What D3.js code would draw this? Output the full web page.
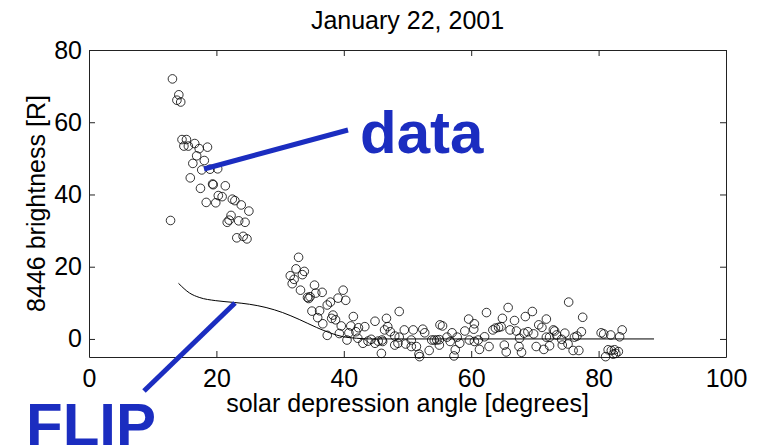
<!DOCTYPE html>
<html>
<head>
<meta charset="utf-8">
<script src="https://cdn.jsdelivr.net/npm/d3@7"></script>
<style>
  html, body { margin: 0; padding: 0; background: #fff; }
  svg { display: block; }
  text { font-family: "Liberation Sans", Arial, Helvetica, sans-serif; }
</style>
</head>
<body>
<svg id="chart" width="763" height="447"></svg>
<script>
// Observed 8446 brightness versus solar depression angle
const angle = [
  13.1,14.1,13.8,14.4,14.6,15.3,14.9,15.6,16.6,17.3,18.6,16.9,18.1,16.3,17.7,19.0,20.2,15.9,17.5,19.4,
  19.5,21.4,20.3,20.9,18.4,19.9,22.5,22.9,23.9,25.1,12.8,22.3,22.0,21.7,23.5,24.5,23.2,24.2,24.8,
  32.9,32.5,33.8,33.5,31.6,32.2,31.9,33.2,35.4,36.6,35.6,34.3,34.7,34.5,39.9,39.1,40.3,37.9,37.4,35.0,
  36.2,35.9,38.3,38.1,36.7,38.7,39.6,37.4,39.3,41.5,41.1,42.3,40.8,41.9,43.3,44.9,46.7,46.9,40.5,42.2,
  43.0,43.8,44.3,45.4,44.9,46.1,45.9,47.3,48.0,48.5,48.7,
  46.4,46.0,48.0,48.7,49.5,49.7,50.6,50.9,50.6,51.4,51.9,51.8,52.4,52.7,53.4,53.8,54.2,54.6,55.0,55.1,
  55.5,55.0,56.2,57.0,56.7,57.5,57.3,57.8,58.2,59.0,59.6,60.4,60.5,59.7,60.5,61.1,61.3,62.4,62.1,62.8,
  63.4,63.8,64.3,64.7,64.9,65.8,65.2,65.5,66.1,66.8,67.1,67.6,67.5,67.9,68.5,69.6,68.3,68.9,69.8,70.2,
  70.6,71.1,71.8,71.4,72.3,72.9,71.8,73.4,
  75.3,77.5,73.1,74.7,72.3,74.2,74.3,75.2,76.0,76.9,76.2,76.6,77.3,80.4,80.8,81.9,83.7,83.3,81.5,82.0,
  82.5,83.1,82.7,81.1,82.3
];
const brightness = [
  72.0,67.6,66.1,65.6,55.2,55.2,53.4,53.4,54.1,52.7,53.1,50.7,49.4,48.6,46.8,47.0,47.1,44.6,41.7,42.9,
  42.7,42.4,39.7,39.4,37.8,37.7,38.7,38.3,37.1,35.4,32.8,34.2,32.9,32.3,32.7,32.3,28.0,28.4,27.7,
  22.6,19.4,18.7,17.8,17.5,16.5,15.3,13.5,14.9,12.9,12.7,11.5,11.7,11.2,13.5,11.3,10.7,10.2,9.4,7.7,
  7.8,5.9,6.6,5.7,4.2,5.3,3.6,1.0,1.5,6.2,3.6,3.1,1.7,2.0,3.4,4.9,5.7,3.4,-0.3,0.2,
  -1.2,-0.6,-0.1,-0.6,-1.2,-0.7,-4.0,2.0,0.8,-1.2,7.6,
  2.5,-0.3,-1.7,0.5,2.5,-1.4,-0.3,2.5,-2.1,-2.1,-4.9,-4.2,2.7,1.7,-3.2,-0.3,-0.3,-0.3,-0.2,3.9,
  3.6,-1.7,0.5,1.7,-0.7,-3.0,-4.7,0.5,-1.2,2.2,5.5,2.7,4.2,-0.3,-0.7,-0.3,-2.9,7.3,0.6,-2.1,
  2.5,3.0,3.2,3.4,5.7,8.7,-1.7,-3.6,2.5,5.1,2.2,0.2,-2.1,-3.7,6.2,7.6,1.6,2.0,1.4,-2.1,
  3.9,3.2,5.5,-2.9,-1.9,2.5,0.5,1.1,
  10.2,6.0,2.2,1.6,0.5,-0.1,-1.7,-1.4,-3.2,-3.2,0.5,0.8,2.0,1.7,1.4,1.1,2.5,0.6,-3.0,-3.2,
  -3.0,-3.5,-4.0,-4.9,-4.2
];

// FLIP model curve
const modelAngle = [14.05,15.8,17.3,19.9,22.8,25.2,27.8,30.4,33.0,35.7,37.8,39.9,42.0,44.0,88.7];
const modelBrightness = [15.4,12.7,11.5,10.6,10.1,9.6,8.7,7.3,5.4,3.2,1.7,0.6,0.2,0.0,0.0];

const xTicks = [0, 20, 40, 60, 80, 100];
const yTicks = [0, 20, 40, 60, 80];
const xDomain = [0, 100];
const yDomain = [-5, 80];

const titleText = "January 22, 2001";
const xLabelText = "solar depression angle [degrees]";
const yLabelText = "8446 brightness [R]";

const W = 763, H = 447;
const margin = { top: 50, right: 37, bottom: 90, left: 89 };
const iw = W - margin.left - margin.right;
const ih = H - margin.top - margin.bottom;

const svg = d3.select("#chart");
const g = svg.append("g").attr("transform", `translate(${margin.left},${margin.top})`);

const x = d3.scaleLinear().domain(xDomain).range([0, iw]);
const y = d3.scaleLinear().domain(yDomain).range([ih, 0]);

const fontSize = 25;
const tickLen = 6;
const axisColor = "#222";

function styleAxis(sel) {
  sel.select(".domain").attr("stroke", axisColor).attr("stroke-width", 1);
  sel.selectAll(".tick line").attr("stroke", axisColor).attr("stroke-width", 1);
  sel.selectAll(".tick text").attr("fill", "#000").style("font-size", fontSize + "px")
    .style("font-family", '"Liberation Sans", Arial, Helvetica, sans-serif');
}

// bottom and left axes carry labels; ticks point inward
g.append("g").attr("transform", `translate(0,${ih})`)
  .call(d3.axisBottom(x).tickValues(xTicks).tickSize(-tickLen).tickSizeOuter(0).tickPadding(12))
  .call(styleAxis);
g.append("g")
  .call(d3.axisLeft(y).tickValues(yTicks).tickSize(-tickLen).tickSizeOuter(0).tickPadding(7))
  .call(styleAxis);
// mirrored top and right axes, ticks only
g.append("g")
  .call(d3.axisTop(x).tickValues(xTicks).tickSize(-tickLen).tickSizeOuter(0).tickFormat(""))
  .call(styleAxis);
g.append("g").attr("transform", `translate(${iw},0)`)
  .call(d3.axisRight(y).tickValues(yTicks).tickSize(-tickLen).tickSizeOuter(0).tickFormat(""))
  .call(styleAxis);

// model curve
const line = d3.line().x(d => x(d[0])).y(d => y(d[1])).curve(d3.curveMonotoneX);
g.append("path")
  .datum(d3.zip(modelAngle, modelBrightness))
  .attr("d", line)
  .attr("fill", "none")
  .attr("stroke", "#000")
  .attr("stroke-width", 1);

// measurements as open circles
g.append("g").selectAll("circle")
  .data(d3.zip(angle, brightness))
  .join("circle")
  .attr("cx", d => x(d[0]))
  .attr("cy", d => y(d[1]))
  .attr("r", 4.3)
  .attr("fill", "none")
  .attr("stroke", "#000")
  .attr("stroke-width", 0.8);

// title and axis labels
svg.append("text")
  .attr("x", margin.left + iw / 2).attr("y", 29)
  .attr("text-anchor", "middle")
  .style("font-size", fontSize + "px")
  .text(titleText);
svg.append("text")
  .attr("x", margin.left + iw / 2).attr("y", 412)
  .attr("text-anchor", "middle")
  .style("font-size", fontSize + "px")
  .text(xLabelText);
svg.append("text")
  .attr("transform", `translate(45,${margin.top + ih / 2}) rotate(-90)`)
  .attr("text-anchor", "middle")
  .style("font-size", fontSize + "px")
  .text(yLabelText);

// annotations
const blue = "#1b2dc0";
svg.append("line")
  .attr("x1", 204).attr("y1", 169).attr("x2", 348).attr("y2", 130)
  .attr("stroke", blue).attr("stroke-width", 5);
svg.append("text")
  .attr("x", 360).attr("y", 153)
  .attr("fill", blue)
  .style("font-size", "60px").style("font-weight", "bold")
  .text("data");
svg.append("line")
  .attr("x1", 235).attr("y1", 303).attr("x2", 144).attr("y2", 391)
  .attr("stroke", blue).attr("stroke-width", 5);
svg.append("text")
  .attr("x", 26).attr("y", 445)
  .attr("fill", blue)
  .style("font-size", "60px").style("font-weight", "bold")
  .text("FLIP");
</script>
</body>
</html>
